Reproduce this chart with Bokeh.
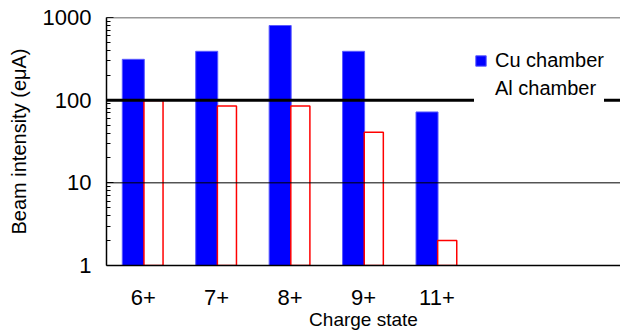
import math
from bokeh.plotting import figure
from bokeh.models import (ColumnDataSource, FactorRange, Span, Legend, LegendItem,
                          FixedTicker, PrintfTickFormatter)
from bokeh.transform import dodge
from bokeh.embed import file_html
from bokeh.resources import INLINE

# ---- data ----
charge_states = ["6+", "7+", "8+", "9+", "11+"]
empty_slots = [" ", "  "]
cu_chamber = [312, 390, 800, 390, 72]
al_chamber = [99, 85, 85, 41, 2]
y_major_ticks = [1, 10, 100, 1000]
y_minor_ticks = [2, 3, 4, 5, 6, 7, 8, 9, 20, 30, 40, 50, 60, 70, 80, 90,
                 200, 300, 400, 500, 600, 700, 800, 900]

FONT = "Liberation Sans"

src = ColumnDataSource(dict(x=charge_states, cu=cu_chamber, al=al_chamber))

p = figure(width=620, height=332, output_backend="svg", toolbar_location=None,
           x_range=FactorRange(*(charge_states + empty_slots)),
           y_axis_type="log", y_range=(1, 1000),
           min_border_left=106, min_border_right=0, min_border_top=17,
           min_border_bottom=66)
p.outline_line_color = None
p.xgrid.grid_line_color = None
p.ygrid.grid_line_color = None
p.background_fill_color = "white"

cu_r = p.vbar(x=dodge("x", -0.135, range=p.x_range), top="cu", bottom=1, width=0.30,
              source=src, fill_color="#0000FF", line_color="#5a5aff", line_width=1)
al_r = p.vbar(x=dodge("x", 0.14, range=p.x_range), top="al", bottom=1, width=0.26,
              source=src, fill_color="white", line_color="#FF0000", line_width=1.5)

# reference lines
p.add_layout(Span(location=10, dimension="width", line_color="black", line_width=1))
p.add_layout(Span(location=100, dimension="width", line_color="black", line_width=3))
p.add_layout(Span(location=1000, dimension="width", line_color="#333333", line_width=1.5))

# y axis
ya = p.yaxis[0]
ya.ticker = FixedTicker(ticks=y_major_ticks, minor_ticks=y_minor_ticks)
ya.formatter = PrintfTickFormatter(format="%d")
ya.major_tick_in = 7
ya.major_tick_out = 0
ya.minor_tick_in = 4
ya.minor_tick_out = 0
ya.axis_line_width = 1.5
ya.major_label_text_font = FONT
ya.major_label_text_font_size = "22px"
ya.major_label_text_color = "black"
ya.major_label_standoff = 15
ya.axis_label = "Beam intensity (eμA)"
ya.axis_label_text_font = FONT
ya.axis_label_text_font_size = "20px"
ya.axis_label_text_font_style = "normal"
ya.axis_label_text_color = "black"
ya.axis_label_standoff = 10

# x axis
xa = p.xaxis[0]
xa.major_tick_line_color = None
xa.minor_tick_line_color = None
xa.axis_line_width = 1.5
xa.major_label_text_font = FONT
xa.major_label_text_font_size = "22px"
xa.major_label_text_color = "black"
xa.major_label_standoff = 13
xa.axis_label = "Charge state"
xa.axis_label_text_font = FONT
xa.axis_label_text_font_size = "19px"
xa.axis_label_text_font_style = "normal"
xa.axis_label_text_color = "black"
xa.axis_label_standoff = -4

# legend
dummy = p.vbar(x=[], top=[], bottom=[], width=0.1, fill_alpha=0, line_alpha=0)
legend = Legend(items=[LegendItem(label="Cu chamber", renderers=[cu_r]),
                       LegendItem(label="Al chamber", renderers=[dummy])],
                location=(368, 163), border_line_color=None,
                background_fill_color="white", background_fill_alpha=1,
                label_text_font=FONT, label_text_font_size="20px",
                label_text_color="black",
                glyph_width=13, glyph_height=13, label_height=28, spacing=0,
                padding=10, margin=0, label_standoff=8)
p.add_layout(legend, "center")

open("out.html", "w").write(file_html(p, INLINE))
